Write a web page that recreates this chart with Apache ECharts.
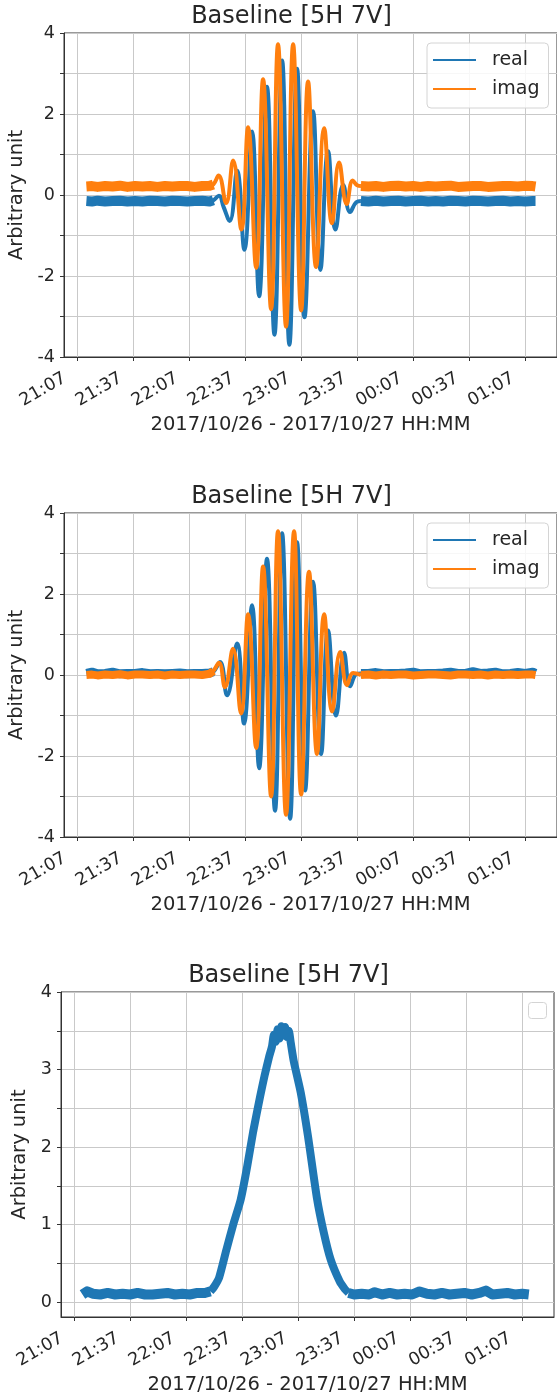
<!DOCTYPE html>
<html><head><meta charset="utf-8">
<script src="https://cdn.jsdelivr.net/npm/echarts@6/dist/echarts.min.js"></script>
<style>html,body{margin:0;padding:0;background:#fff;}#c{width:557px;height:1397px;}</style>
</head><body><div id="c"></div>
<script>
// x values are minutes after 2017/10/26 21:00
const xTickMinutes = [7, 37, 67, 97, 127, 157, 187, 217, 247];
const xTickLabels = ['21:07','21:37','22:07','22:37','23:07','23:37','00:07','00:37','01:07'];
const yTicks12 = [-4, -2, 0, 2, 4];
const yTicks3 = [0, 1, 2, 3, 4];
const yMinor3 = [0, 0.5, 1, 1.5, 2, 2.5, 3, 3.5, 4];
const legendNames = ['real', 'imag'];
const titleText = 'Baseline [5H 7V]';
const xName = '2017/10/26 - 2017/10/27 HH:MM';
const yName = 'Arbitrary unit';

// Chart 1 – real
const t1r = [12,15,18,22,26,30,34,38,42,46,50,54,58,62,66,70,74,78,
  80,83,85.5,88.7,92.7,96.6,100.7,104.5,108.7,112.7,116.8,120.7,124.8,128.8,133.4,137.3,141.4,145.4,149.5,153.2,156.5,
  159,163,167,171,175,179,183,187,191,195,199,203,207,211,215,219,223,227,231,235,239,243,247,251,252.5];
const v1r = [-0.15,-0.16,-0.14,-0.16,-0.15,-0.14,-0.16,-0.15,-0.16,-0.14,-0.15,-0.16,-0.14,-0.15,-0.16,-0.15,-0.14,-0.16,
  -0.13,-0.02,-0.3,-0.64,0.6,-1.35,1.57,-2.5,2.67,-3.45,3.32,-3.7,3.12,-3.02,2.07,-1.85,1.08,-0.85,0.25,-0.42,-0.18,
  -0.15,-0.16,-0.14,-0.16,-0.15,-0.14,-0.16,-0.15,-0.14,-0.16,-0.15,-0.16,-0.14,-0.15,-0.16,-0.14,-0.15,-0.16,-0.15,-0.14,-0.16,-0.15,-0.16,-0.15,-0.15];
// Chart 1 – imag
const t1i = [12,15,18,22,26,30,34,38,42,46,50,54,58,62,66,70,74,78,
  80,82.8,86.8,90.6,95,98.6,102.9,106.6,110.9,114.6,118.9,122.7,127,130.7,135,139.3,143.5,147.3,151.4,154.6,157,
  159,163,167,171,175,179,183,187,191,195,199,203,207,211,215,219,223,227,231,235,239,243,247,251,252.5];
const v1i = [0.21,0.22,0.2,0.22,0.21,0.23,0.2,0.22,0.21,0.22,0.2,0.22,0.21,0.22,0.22,0.2,0.22,0.23,
  0.26,0.48,-0.2,0.85,-0.85,1.67,-1.8,2.86,-2.82,3.72,-3.25,3.72,-2.85,2.8,-1.78,1.65,-0.7,0.8,-0.22,0.36,0.24,
  0.22,0.21,0.22,0.2,0.22,0.23,0.21,0.22,0.2,0.22,0.21,0.22,0.23,0.2,0.21,0.22,0.22,0.2,0.21,0.22,0.22,0.21,0.23,0.22,0.21];
// Chart 2 – real
const t2r = [12,15,18,22,26,30,34,38,42,46,50,54,58,62,66,70,74,78,
  80,83.6,87.3,92.7,96.4,100.7,104.5,108.7,113,116.8,121.1,124.8,129.1,133.4,137.7,141.4,145.7,150,153.2,156.5,
  159,163,167,171,175,179,183,187,191,195,199,203,207,211,215,219,223,227,231,235,239,243,247,251,252.5];
const v2r = [0.04,0.07,0.03,0.04,0.07,0.03,0.04,0.04,0.06,0.03,0.04,0.03,0.04,0.05,0.03,0.04,0.04,0.05,
  0.08,0.32,-0.5,0.78,-1.2,1.72,-2.3,2.87,-3.35,3.5,-3.55,3.28,-2.85,2.3,-1.95,1.1,-1.0,0.55,-0.28,0.02,
  0.04,0.04,0.06,0.03,0.04,0.04,0.05,0.07,0.03,0.04,0.04,0.05,0.07,0.04,0.04,0.08,0.04,0.05,0.07,0.03,0.04,0.06,0.04,0.07,0.04];
// Chart 2 – imag
const t2i = [12,15,18,22,26,30,34,38,42,46,50,54,58,62,66,70,74,78,
  80,83,86.2,90.5,94.8,98.6,102.9,106.6,110.9,114.6,118.9,123.2,127,131.2,135.5,139.3,143.6,147.9,151.6,154.8,
  159,163,167,171,175,179,183,187,191,195,199,203,207,211,215,219,223,227,231,235,239,243,247,251,252.5];
const v2i = [0.0,0.01,-0.01,0.01,0.0,0.02,-0.01,0.01,0.01,0.0,0.01,-0.01,0.01,0.0,0.01,0.01,0.0,0.03,
  0.1,0.3,-0.3,0.65,-0.95,1.5,-1.8,2.68,-3.0,3.55,-3.45,3.55,-2.95,2.55,-1.95,1.5,-0.9,0.57,-0.25,0.05,
  0.0,0.01,-0.01,0.01,0.0,0.01,0.01,-0.01,0.0,0.01,0.01,0.0,-0.01,0.01,0.01,0.0,0.01,-0.01,0.01,0.0,0.01,0.0,0.01,0.01,0.0];
// Chart 3 – amplitude
const t3 = [11.5,14,17,21,25,29,33,37,41,45,49,53,57,61,65,69,73,77,80,
  82,84.7,88.5,92.2,96.2,99.7,102.9,106.6,109,111.4,113,114,115,116,117,118,119,120,121,122,123,124.7,128.4,132.2,137,140.7,144.4,149.2,152,154,
  157,161,165,168,172,176,180,184,188,192,196,200,204,208,212,216,220,224,227.5,231,235,239,243,247,250.5];
const v3 = [0.1,0.14,0.11,0.1,0.12,0.1,0.11,0.1,0.12,0.1,0.1,0.11,0.12,0.1,0.11,0.1,0.12,0.12,0.14,
  0.2,0.32,0.67,1.0,1.32,1.75,2.2,2.65,2.92,3.16,3.3,3.45,3.36,3.52,3.4,3.56,3.44,3.55,3.42,3.5,3.35,3.1,2.7,2.15,1.35,0.9,0.55,0.27,0.17,0.12,
  0.1,0.11,0.1,0.13,0.1,0.12,0.1,0.11,0.1,0.14,0.11,0.1,0.12,0.1,0.11,0.12,0.1,0.12,0.15,0.1,0.11,0.12,0.1,0.11,0.1];

const FONT = 'DejaVu Sans';
const TXT = '#262626';
const BLUE = '#1f77b4', ORANGE = '#ff7f0e';

function pairs(t, v, lo, hi) {
  const out = [];
  for (let i = 0; i < t.length; i++) if (t[i] >= lo && t[i] <= hi) out.push([t[i], v[i]]);
  return out;
}
function baseline(t, v, a, b) {
  return pairs(t, v, -1, a).concat([[null, null]], pairs(t, v, b, 999));
}

const grids = [
  {left: 64, top: 33, width: 493, height: 324},
  {left: 64, top: 513, width: 493, height: 324},
  {left: 61, top: 992, width: 493, height: 325}
];

function xAxis(i) {
  return {
    type: 'value', gridIndex: i, min: 0, max: 264,
    axisLine: {show: true, onZero: false, lineStyle: {color: '#333', width: 1}},
    axisTick: {show: true, customValues: xTickMinutes, length: 4, lineStyle: {color: '#333'}},
    axisLabel: {customValues: xTickMinutes, rotate: 30, margin: 13, padding: [0, 14, 0, 0],
      formatter: v => xTickLabels[xTickMinutes.indexOf(v)] || '',
      fontSize: 17.5, color: TXT, fontFamily: FONT},
    splitLine: {show: true, lineStyle: {color: '#c9c9c9', width: 1}},
    name: xName, nameLocation: 'middle', nameGap: 58,
    nameTextStyle: {fontSize: 19.5, color: TXT, fontFamily: FONT}
  };
}
function yAxis12(i) {
  return {
    type: 'value', gridIndex: i, min: -4, max: 4, interval: 1,
    axisLine: {show: true, onZero: false, lineStyle: {color: '#333', width: 1}},
    axisTick: {show: true, length: 4, lineStyle: {color: '#333'}},
    axisLabel: {customValues: yTicks12, margin: 9, fontSize: 17.5, color: TXT, fontFamily: FONT,
      formatter: v => String(v)},
    splitLine: {show: true, lineStyle: {color: '#c9c9c9', width: 1}},
    name: yName, nameLocation: 'middle', nameGap: 28,
    nameTextStyle: {fontSize: 19.5, color: TXT, fontFamily: FONT}
  };
}
const yAxis3 = {
  type: 'value', gridIndex: 2, min: -0.19, max: 4,
  axisLine: {show: true, onZero: false, lineStyle: {color: '#333', width: 1}},
  axisTick: {show: true, customValues: yMinor3, length: 4, lineStyle: {color: '#333'}},
  axisLabel: {customValues: yTicks3, margin: 9, fontSize: 17.5, color: TXT, fontFamily: FONT,
    formatter: v => String(v)},
  splitLine: {show: true, lineStyle: {color: '#c9c9c9', width: 1}},
  name: yName, nameLocation: 'middle', nameGap: 25,
  nameTextStyle: {fontSize: 19.5, color: TXT, fontFamily: FONT}
};

function lineSeries(name, idx, data, color, width, smooth, z) {
  return {
    type: 'line', name: name, xAxisIndex: idx, yAxisIndex: idx, data: data,
    showSymbol: false, symbol: 'none', smooth: smooth, connectNulls: false,
    lineStyle: {color: color, width: width, join: 'round', cap: 'butt'},
    itemStyle: {color: color}, z: z, silent: true, animation: false
  };
}

const FA = 79, FB = 158; // fringe window (minutes)
const series = [
  lineSeries('real', 0, baseline(t1r, v1r, FA + 1, FB), BLUE, 10, false, 2),
  lineSeries('real', 0, pairs(t1r, v1r, FA - 1, FB + 2), BLUE, 4, 0.45, 2),
  lineSeries('imag', 0, baseline(t1i, v1i, FA + 1, FB), ORANGE, 10, false, 3),
  lineSeries('imag', 0, pairs(t1i, v1i, FA - 1, FB + 2), ORANGE, 4, 0.45, 3),
  lineSeries('real', 1, baseline(t2r, v2r, FA + 1, FB), BLUE, 9, false, 2),
  lineSeries('real', 1, pairs(t2r, v2r, FA - 1, FB + 2), BLUE, 4, 0.45, 2),
  lineSeries('imag', 1, baseline(t2i, v2i, FA + 1, FB), ORANGE, 8, false, 3),
  lineSeries('imag', 1, pairs(t2i, v2i, FA - 1, FB + 2), ORANGE, 4, 0.45, 3),
  lineSeries('amp', 2, baseline(t3, v3, 81, 153), BLUE, 10, false, 2),
  lineSeries('amp', 2, pairs(t3, v3, 79, 155), BLUE, 8, 0.2, 2)
];

function legend(top) {
  return {
    data: legendNames, orient: 'vertical', left: 427, top: top,
    icon: 'rect', itemWidth: 43, itemHeight: 2, itemGap: 9,
    padding: [7, 9, 9, 6],
    backgroundColor: 'rgba(255,255,255,0.85)', borderColor: '#d4d4d4', borderWidth: 1, borderRadius: 4,
    textStyle: {fontSize: 19, lineHeight: 20, color: TXT, fontFamily: FONT, padding: [0, 0, 0, 11]},
    selectedMode: false
  };
}

function title(i, top) {
  const g = grids[i];
  return {text: titleText, left: g.left + g.width / 2 - 19, top: top, textAlign: 'center', padding: 0,
    textStyle: {fontSize: 24, fontWeight: 'normal', color: TXT, fontFamily: FONT}};
}

const chart = echarts.init(document.getElementById('c'), null, {renderer: 'canvas'});
chart.setOption({
  animation: false,
  backgroundColor: '#fff',
  title: [title(0, 5), title(1, 485), title(2, 964)],
  legend: [legend(43), legend(523)],
  grid: grids.map(g => Object.assign({show: true, borderColor: '#333', borderWidth: 1,
    backgroundColor: 'transparent', containLabel: false, outerBoundsMode: 'none'}, g)),
  xAxis: [xAxis(0), xAxis(1), xAxis(2)],
  yAxis: [yAxis12(0), yAxis12(1), yAxis3],
  series: series,
  graphic: [{type: 'rect', left: 528, top: 1002, shape: {width: 18, height: 16, r: 3},
    style: {fill: '#fff', stroke: '#d4d4d4', lineWidth: 1}, z: 10}]
});
</script></body></html>
